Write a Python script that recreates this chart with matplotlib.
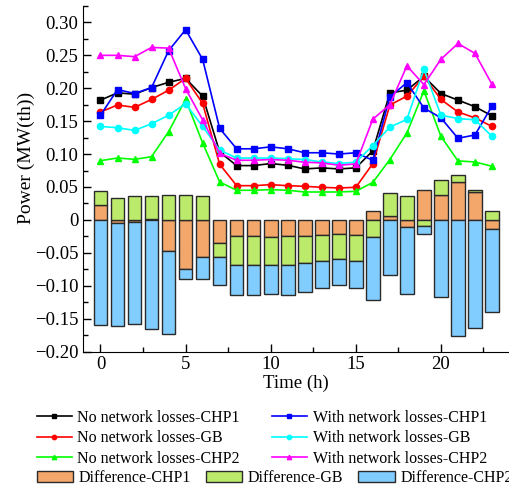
import numpy as np
import matplotlib
matplotlib.use('Agg')
import matplotlib.pyplot as plt
from matplotlib.ticker import MultipleLocator, FuncFormatter

plt.rcParams['font.family'] = ['Liberation Serif', 'DejaVu Serif']
plt.rcParams['axes.unicode_minus'] = True

# hourly data
hours = list(range(24))

no_chp1 = [0.182, 0.193, 0.191, 0.201, 0.209, 0.215, 0.188, 0.103, 0.0825, 0.0825, 0.0856, 0.083,
           0.0774, 0.079, 0.0774, 0.079, 0.105, 0.193, 0.197, 0.218, 0.192, 0.182, 0.172, 0.158]
with_chp1 = [0.159, 0.198, 0.192, 0.201, 0.257, 0.289, 0.244, 0.139, 0.108, 0.108, 0.111, 0.108,
             0.102, 0.102, 0.100, 0.102, 0.0906, 0.187, 0.2085, 0.170, 0.155, 0.124, 0.129, 0.173]
no_gb = [0.164, 0.1745, 0.171, 0.183, 0.197, 0.215, 0.177, 0.0846, 0.052, 0.052, 0.0535, 0.052,
         0.051, 0.0495, 0.0485, 0.0495, 0.0855, 0.1745, 0.188, 0.218, 0.183, 0.164, 0.155, 0.142]
with_gb = [0.142, 0.140, 0.136, 0.146, 0.159, 0.1765, 0.142, 0.106, 0.094, 0.094, 0.094, 0.093,
           0.0917, 0.088, 0.0856, 0.0876, 0.113, 0.141, 0.1526, 0.229, 0.159, 0.154, 0.152, 0.127]
no_chp2 = [0.090, 0.094, 0.092, 0.096, 0.134, 0.183, 0.117, 0.0576, 0.045, 0.045, 0.046, 0.045,
           0.0424, 0.0424, 0.0424, 0.0434, 0.057, 0.0917, 0.132, 0.196, 0.127, 0.0896, 0.088, 0.0815]
with_chp2 = [0.250, 0.250, 0.248, 0.262, 0.261, 0.1994, 0.152, 0.101, 0.0906, 0.0906, 0.0917, 0.0906,
             0.0876, 0.0866, 0.083, 0.085, 0.153, 0.175, 0.234, 0.2055, 0.244, 0.268, 0.253, 0.206]

diff_chp1 = [0.023, -0.005, -0.0025, 0.001, -0.048, -0.075, -0.056, -0.0356, -0.025, -0.025, -0.026, -0.025,
             -0.024, -0.023, -0.022, -0.023, 0.013, 0.0066, -0.011, 0.045, 0.038, 0.057, 0.042, -0.014]
diff_gb = [0.021, 0.034, 0.0356, 0.036, 0.038, 0.038, 0.0356, -0.0214, -0.0436, -0.0436, -0.0426, -0.0436,
           -0.042, -0.039, -0.0375, -0.0395, -0.0264, 0.034, 0.0356, -0.010, 0.023, 0.0116, 0.0037, 0.014]
diff_chp2 = [-0.160, -0.156, -0.155, -0.166, -0.126, -0.015, -0.034, -0.042, -0.0454, -0.0454, -0.0434, -0.0454,
             -0.044, -0.042, -0.040, -0.0415, -0.0946, -0.0838, -0.1018, -0.011, -0.117, -0.177, -0.1636, -0.126]

fig = plt.figure(figsize=(5.09, 4.86), dpi=100)
ax = fig.add_axes([0.164, 0.2767, 0.836, 0.711])

# stacked difference bars (positive and negative parts stacked separately)
pos = np.zeros(24)
neg = np.zeros(24)
bar_handles = []
for vals, color, label in [(diff_chp1, '#F4A76A', 'Difference-CHP1'),
                           (diff_gb, '#BCEA6B', 'Difference-GB'),
                           (diff_chp2, '#82CDFF', 'Difference-CHP2')]:
    v = np.array(vals)
    bottom = np.where(v >= 0, pos, neg)
    b = ax.bar(hours, v, width=0.8, bottom=bottom, color=color, edgecolor='#2a2a2a',
               linewidth=1.0, label=label, zorder=2)
    bar_handles.append(b)
    pos += np.clip(v, 0, None)
    neg += np.clip(v, None, 0)

# power lines
line_specs = [
    (no_chp1, 'black', 's', 'No network losses-CHP1'),
    (no_gb, '#FF0000', 'o', 'No network losses-GB'),
    (no_chp2, '#00FF00', '^', 'No network losses-CHP2'),
    (with_chp1, '#0000FF', 's', 'With network losses-CHP1'),
    (with_gb, '#00FFFF', 'o', 'With network losses-GB'),
    (with_chp2, '#FF00FF', '^', 'With network losses-CHP2'),
]
line_handles = []
for vals, color, marker, label in line_specs:
    l, = ax.plot(hours, vals, color=color, marker=marker, markersize=4.5,
                 linewidth=1.2, label=label, zorder=3)
    line_handles.append(l)

ax.set_xlim(-1, 24)
ax.set_ylim(-0.2, 0.325)
ax.spines['top'].set_visible(False)
ax.spines['right'].set_visible(False)
ax.xaxis.set_major_locator(MultipleLocator(5))
ax.xaxis.set_minor_locator(MultipleLocator(2.5))
ax.yaxis.set_major_locator(MultipleLocator(0.05))
ax.yaxis.set_minor_locator(MultipleLocator(0.025))
ax.yaxis.set_major_formatter(FuncFormatter(
    lambda v, p: '0' if abs(v) < 1e-9 else ('%.2f' % v).replace('-', '\u2212')))
ax.tick_params(which='major', direction='in', length=6, width=1, labelsize=13.5)
ax.tick_params(which='minor', direction='in', length=3.5, width=1)
ax.set_xlabel('Time (h)', fontsize=13.5, labelpad=1)
ax.set_ylabel('Power (MW(th))', fontsize=14)
ax.yaxis.set_label_coords(-0.113, 0.56)

# legends below the plot
fig.legend(line_handles, [h.get_label() for h in line_handles], ncol=2,
           loc='upper left', bbox_to_anchor=(0.072, 0.157), frameon=False,
           fontsize=11.5, handlelength=2.2, handletextpad=0.35, columnspacing=2.0,
           labelspacing=0.28, markerscale=0.7, borderpad=0, borderaxespad=0)
fig.legend(bar_handles, [b.get_label() for b in bar_handles], ncol=3,
           loc='upper left', bbox_to_anchor=(0.072, 0.033), frameon=False,
           fontsize=11.5, handlelength=2.3, handletextpad=0.35, columnspacing=0.9,
           borderpad=0, borderaxespad=0)

plt.savefig('out.png', dpi=100)
